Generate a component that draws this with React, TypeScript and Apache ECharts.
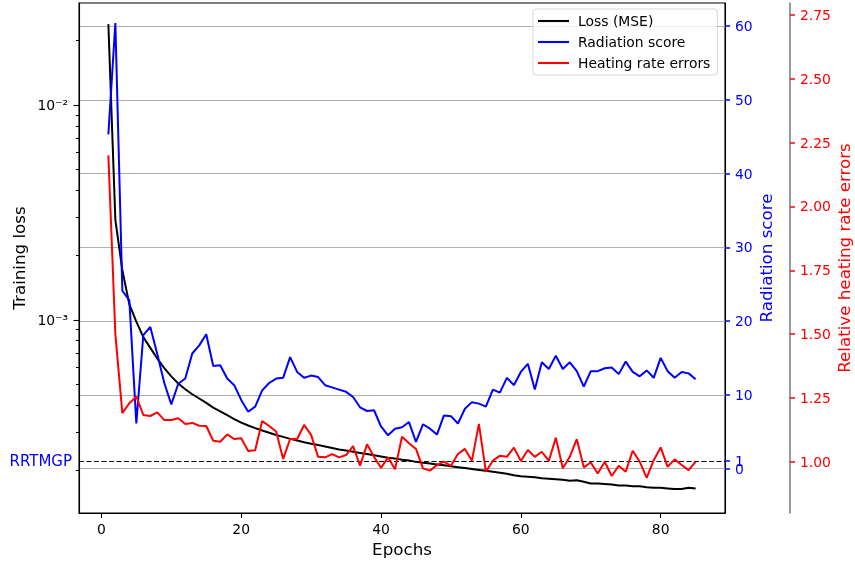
import React, { useEffect, useRef } from "react";
import * as echarts from "echarts";

const epochs = [
  1, 2, 3, 4, 5, 6, 7, 8, 9, 10, 11, 12, 13, 14, 15, 16, 17, 18, 19, 20,
  21, 22, 23, 24, 25, 26, 27, 28, 29, 30, 31, 32, 33, 34, 35, 36, 37, 38, 39, 40,
  41, 42, 43, 44, 45, 46, 47, 48, 49, 50, 51, 52, 53, 54, 55, 56, 57, 58, 59, 60,
  61, 62, 63, 64, 65, 66, 67, 68, 69, 70, 71, 72, 73, 74, 75, 76, 77, 78, 79, 80,
  81, 82, 83, 84, 85,
];

const lossMSE = [
  0.0238, 0.00292, 0.0017, 0.00118, 0.00098, 0.00083, 0.00074, 0.00066, 0.000595, 0.000545,
  0.000505, 0.000475, 0.00045, 0.00043, 0.00041, 0.00039, 0.000375, 0.00036, 0.000345, 0.000332,
  0.000322, 0.000313, 0.000305, 0.000298, 0.000291, 0.000285, 0.000279, 0.000274, 0.000269, 0.000265,
  0.000261, 0.000257, 0.000253, 0.000249, 0.000246, 0.000243, 0.00024, 0.000237, 0.000234, 0.000231,
  0.000228, 0.000226, 0.000223, 0.000221, 0.000218, 0.000216, 0.000214, 0.000212, 0.00021, 0.000208,
  0.000206, 0.000204, 0.000202, 0.0002, 0.000198, 0.000196, 0.000194, 0.000192, 0.000189, 0.000187,
  0.000186, 0.000185, 0.000183, 0.000182, 0.000181, 0.00018, 0.000178, 0.000179, 0.000176, 0.000173,
  0.000173, 0.000172, 0.000171, 0.000169, 0.000169, 0.000168, 0.000168, 0.000166, 0.000165, 0.000165,
  0.000164, 0.000163, 0.000163, 0.000165, 0.000164,
];

const radiationScore = [
  45.3, 60.4, 24.1, 22.8, 6.1, 18.1, 19.2, 15.5, 11.6, 8.7,
  11.5, 12.2, 15.6, 16.7, 18.2, 13.9, 14.0, 12.2, 11.3, 9.3,
  7.7, 8.4, 10.6, 11.6, 12.2, 12.3, 15.1, 13.1, 12.3, 12.6,
  12.4, 11.3, 11.0, 10.7, 10.4, 9.7, 8.3, 7.8, 7.9, 5.7,
  4.5, 5.4, 5.6, 6.3, 3.6, 6.0, 5.4, 4.6, 7.2, 7.1,
  6.1, 8.1, 9.0, 8.8, 8.4, 10.7, 10.3, 12.3, 11.3, 13.1,
  14.2, 10.7, 14.4, 13.5, 15.3, 13.5, 14.4, 13.2, 11.1, 13.2,
  13.2, 13.6, 13.7, 12.8, 14.5, 13.1, 12.5, 13.3, 12.3, 15.0,
  13.2, 12.3, 13.1, 12.9, 12.1,
];

const heatingRateErrors = [
  2.2, 1.5, 1.19, 1.229, 1.255, 1.183, 1.179, 1.193, 1.163, 1.163,
  1.17, 1.148, 1.152, 1.141, 1.14, 1.082, 1.078, 1.107, 1.089, 1.092,
  1.042, 1.045, 1.159, 1.14, 1.118, 1.011, 1.089, 1.089, 1.144, 1.105,
  1.019, 1.017, 1.03, 1.017, 1.026, 1.061, 0.984, 1.068, 1.019, 0.976,
  1.017, 0.97, 1.098, 1.072, 1.05, 0.974, 0.965, 0.987, 1.0, 0.984,
  1.03, 1.05, 1.004, 1.148, 0.961, 1.004, 1.023, 1.019, 1.055, 1.003,
  1.046, 1.019, 1.039, 1.003, 1.094, 0.974, 1.019, 1.088, 0.978, 0.997,
  0.954, 1.0, 0.944, 0.984, 0.961, 1.043, 1.0, 0.937, 1.006, 1.056,
  0.98, 1.009, 0.987, 0.967, 1.0,
];

const xTicks = [0, 20, 40, 60, 80];
const lossMajorTicks = [1e-3, 1e-2];
const lossMinorTicks = [
  2e-4, 3e-4, 4e-4, 5e-4, 6e-4, 7e-4, 8e-4, 9e-4,
  2e-3, 3e-3, 4e-3, 5e-3, 6e-3, 7e-3, 8e-3, 9e-3,
  2e-2,
];
const radiationTicks = [0, 1, 10, 20, 30, 40, 50, 60];
const radiationLabels = [0, 10, 20, 30, 40, 50, 60];
const rrtmgpTickLabel = [1];
const radiationGrid = [0, 10, 20, 30, 40, 50, 60];
const heatingTicks = [1.0, 1.25, 1.5, 1.75, 2.0, 2.25, 2.5, 2.75];
const rrtmgpLevel = 1;

const FONT = "DejaVu Sans";
const BLUE = "#0000ff";
const RED = "#ff0000";
const LOSS_MIN = 1.26e-4;
const LOSS_MAX = 0.02985;
const RAD_MIN = -6.03;
const RAD_MAX = 63.12;
const HEAT_MIN = 0.799;
const HEAT_MAX = 2.797;

const SUP: Record<string, string> = { "-": "\u207B", "0": "\u2070", "1": "\u00B9", "2": "\u00B2", "3": "\u00B3", "4": "\u2074", "5": "\u2075" };
function logLabel(v: number): string {
  const e = Math.round(Math.log10(v));
  return "10" + String(e).split("").map((c) => SUP[c] ?? c).join("");
}

export default function App() {
  const ref = useRef<HTMLDivElement>(null);
  useEffect(() => {
    document.body.style.margin = "0";
    document.body.style.overflow = "hidden";
    document.documentElement.style.overflow = "hidden";
    const chart = echarts.init(ref.current!, null, { renderer: "svg", width: 855, height: 564 });
    const pair = (ys: number[]) => epochs.map((e, i) => [e, ys[i]]);
    const legendIcon = "rect";
    const option: any = {
      animation: false,
      textStyle: { fontFamily: FONT },
      grid: {
        left: 79, right: 130, top: 3, bottom: 51,
        outerBoundsMode: "none",
        containLabel: false,
        show: true, borderColor: "#000", borderWidth: 1.1, backgroundColor: "transparent",
      },
      legend: {
        show: true,
        orient: "vertical",
        left: 533,
        top: 9,
        padding: [5, 7, 5, 5],
        itemGap: 7,
        itemWidth: 31,
        itemHeight: 2.1,
        formatter: "{t|{name}}",
        textStyle: {
          fontSize: 13.9, lineHeight: 14, color: "#000", fontFamily: FONT,
          rich: { t: { fontSize: 13.9, lineHeight: 14, color: "#000", fontFamily: FONT, padding: [0, 0, 0, 4] } },
        },
        backgroundColor: "rgba(255,255,255,0.8)",
        borderColor: "rgba(204,204,204,0.8)",
        borderWidth: 1,
        borderRadius: 3,
        data: [
          { name: "Loss (MSE)", icon: legendIcon },
          { name: "Radiation score", icon: legendIcon },
          { name: "Heating rate errors", icon: legendIcon },
        ],
      },
      xAxis: {
        type: "value",
        min: -3.2,
        max: 89.2,
        axisLine: { show: true, onZero: false, lineStyle: { color: "#000", width: 1.1 } },
        axisTick: { show: true, customValues: xTicks, length: 5, lineStyle: { color: "#000", width: 1.1 } },
        axisLabel: { customValues: xTicks, margin: 9, fontSize: 13.9, color: "#000", fontFamily: FONT, hideOverlap: false },
        splitLine: { show: false },
        name: "Epochs",
        nameLocation: "middle",
        nameGap: 27,
        nameTextStyle: { fontSize: 16.7, color: "#000", fontFamily: FONT },
      },
      yAxis: [
        {
          type: "log",
          logBase: 10,
          min: LOSS_MIN,
          max: LOSS_MAX,
          position: "left",
          axisLine: { show: true, onZero: false, lineStyle: { color: "#000", width: 1.1 } },
          axisTick: { show: true, customValues: lossMajorTicks, length: 5.5, lineStyle: { color: "#000", width: 1.1 } },
          axisLabel: {
            customValues: lossMajorTicks, formatter: (v: number) => logLabel(v),
            margin: 11, fontSize: 13.9, color: "#000", fontFamily: FONT, hideOverlap: false,
          },
          splitLine: { show: false },
          name: "Training loss",
          nameLocation: "middle",
          nameGap: 52,
          nameMoveOverlap: false,
          nameTextStyle: { fontSize: 16.7, color: "#000", fontFamily: FONT },
        },
        {
          type: "value",
          min: RAD_MIN,
          max: RAD_MAX,
          position: "right",
          axisLine: { show: true, onZero: false, lineStyle: { color: "#000", width: 1.1 } },
          axisTick: { show: true, customValues: radiationTicks, length: 5, lineStyle: { color: BLUE, width: 1.5 } },
          axisLabel: {
            customValues: radiationLabels, margin: 10, fontSize: 13.9, color: BLUE, fontFamily: FONT,
            hideOverlap: false,
          },
          splitLine: { show: false },
          name: "Radiation score",
          nameLocation: "middle",
          nameGap: 32,
          nameMoveOverlap: false,
          nameTextStyle: { fontSize: 16.7, color: BLUE, fontFamily: FONT },
        },
        {
          type: "value",
          min: HEAT_MIN,
          max: HEAT_MAX,
          position: "right",
          offset: 65,
          axisLine: { show: true, onZero: false, lineStyle: { color: "#808080", width: 1.6 } },
          axisTick: { show: true, customValues: heatingTicks, length: 5, lineStyle: { color: RED, width: 1.5 } },
          axisLabel: {
            customValues: heatingTicks, formatter: (v: number) => v.toFixed(2),
            margin: 10, fontSize: 13.9, color: RED, fontFamily: FONT, hideOverlap: false,
          },
          splitLine: { show: false },
          name: "Relative heating rate errors",
          nameLocation: "middle",
          nameGap: 45,
          nameMoveOverlap: false,
          nameTextStyle: { fontSize: 16.7, color: RED, fontFamily: FONT },
        },
        {
          type: "value",
          min: RAD_MIN,
          max: RAD_MAX,
          position: "right",
          axisLine: { show: false },
          axisTick: { show: false, customValues: radiationGrid },
          axisLabel: { show: false, customValues: radiationGrid },
          splitLine: { show: true, lineStyle: { color: "#b0b0b0", width: 1.1 } },
        },
        {
          type: "log",
          logBase: 10,
          min: LOSS_MIN,
          max: LOSS_MAX,
          position: "left",
          axisLine: { show: false },
          axisTick: { show: true, customValues: lossMinorTicks, length: 3, lineStyle: { color: "#000", width: 1 } },
          axisLabel: { show: false, customValues: lossMinorTicks },
          splitLine: { show: false },
        },
        {
          type: "value",
          min: RAD_MIN,
          max: RAD_MAX,
          position: "right",
          axisLine: { show: false },
          axisTick: { show: false, customValues: rrtmgpTickLabel },
          axisLabel: {
            show: true, customValues: rrtmgpTickLabel, margin: 10, fontSize: 13.9, color: BLUE,
            fontFamily: FONT, hideOverlap: false,
          },
          splitLine: { show: false },
        },
      ],
      series: [
        {
          name: "Loss (MSE)",
          type: "line",
          yAxisIndex: 0,
          data: pair(lossMSE),
          symbol: "none",
          lineStyle: { color: "#000", width: 2 },
          itemStyle: { color: "#000" },
          z: 3,
        },
        {
          name: "Radiation score",
          type: "line",
          yAxisIndex: 1,
          data: pair(radiationScore),
          symbol: "none",
          lineStyle: { color: BLUE, width: 2 },
          itemStyle: { color: BLUE },
          z: 4,
          markLine: {
            silent: true,
            symbol: ["none", "none"],
            lineStyle: { color: "#000", type: [5, 2.5], width: 1.1 },
            label: {
              show: true, position: "start", formatter: "RRTMGP", color: BLUE,
              fontSize: 15, distance: 7, fontFamily: FONT,
            },
            data: [{ yAxis: rrtmgpLevel }],
          },
        },
        {
          name: "Heating rate errors",
          type: "line",
          yAxisIndex: 2,
          data: pair(heatingRateErrors),
          symbol: "none",
          lineStyle: { color: RED, width: 2 },
          itemStyle: { color: RED },
          z: 5,
        },
      ],
    };
    chart.setOption(option);
    return () => chart.dispose();
  }, []);
  return <div ref={ref} style={{ position: "fixed", left: 0, top: 0, width: 855, height: 564 }} />;
}
